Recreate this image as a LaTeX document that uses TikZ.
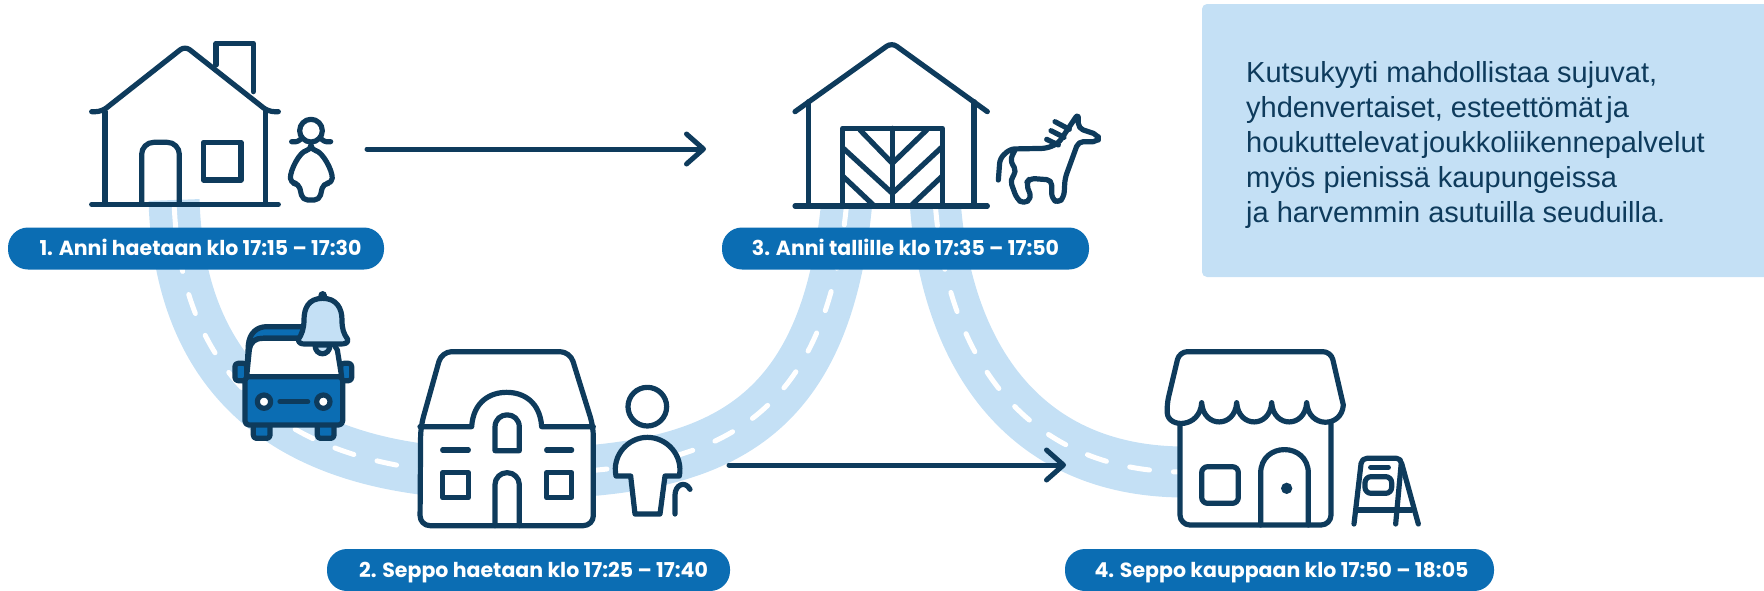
\documentclass[tikz,border=0pt]{standalone}
\usepackage{fontspec}
\usetikzlibrary{arrows.meta}
\setmainfont{Liberation Sans}
\newfontfamily\pillfont{Poppins}
\definecolor{mynavy}{HTML}{0E3B5C}
\definecolor{myblue}{HTML}{0B6DB3}
\definecolor{mylight}{HTML}{C4E0F5}
\tikzset{
  icon/.style={draw=mynavy,line width=5.2pt,line join=round,line cap=round},
  iconw/.style={icon,fill=white},
  iconb/.style={icon,fill=myblue},
  road/.style={draw=mylight,line width=51pt},
  lane/.style={draw=white,line width=5pt,line cap=round,dash pattern=on 20pt off 24pt},
  pill/.style={fill=myblue,rounded corners=20pt,text=white,font=\pillfont\bfseries\fontsize{20.5}{24}\selectfont,inner sep=0pt,minimum height=42pt,text height=14pt,text depth=0pt},
  flow/.style={draw=mynavy,line width=5pt,line cap=round,-{Straight Barb[length=17pt,width=30pt,line width=5pt,round]}},
  zoomed/.style={scale=0.33333}
}
\begin{document}
\begin{tikzpicture}[x=1pt,y=-1pt]
\useasboundingbox (0,0) rectangle (1764,590);
% roads
\path[road] (174,200) .. controls (180,390) and (300,474) .. (500,474) .. controls (700,474) and (825,440) .. (847,200);
\path[road] (935,200) .. controls (945,350) and (1020,472) .. (1185,472);
\path[lane,dash phase=36pt] (174,200) .. controls (180,390) and (300,474) .. (500,474);
\path[lane,dash phase=39pt] (847,200) .. controls (825,440) and (700,474) .. (500,474);
\path[lane,dash phase=38pt] (935,200) .. controls (945,350) and (1020,472) .. (1185,472);
% info box
\fill[mylight,rounded corners=5pt] (1202,4) rectangle (1770,277);
\node[anchor=base west,inner sep=0pt,align=left,text=mynavy,font=\fontsize{29}{35}\selectfont] (info) at (1246,222) {Kutsukyyti mahdollistaa sujuvat,\\yhdenvertaiset, esteettömät\hspace{4pt}ja\\houkuttelevat\hspace{4pt}joukkoliikennepalvelut\\myös pienissä kaupungeissa\\ja harvemmin asutuilla seuduilla.};
% arrows
\coordinate (a1s) at (367,149);
\coordinate (a1e) at (706,149);
\coordinate (a2s) at (729,465);
\coordinate (a2e) at (1066,465);
\draw[flow] (a1s) -- (a1e);
\draw[flow] (a2s) -- (a2e);
% house 1 + girl
\begin{scope}[shift={(0,20)},zoomed]
\path[icon] (648,135) -- (648,70) -- (760,70) -- (760,215);
\path[icon] (315,275) -- (315,553);
\path[icon] (797,275) -- (797,553);
\path[icon,rounded corners=6pt] (275,275) -- (305,275) -- (555,78) -- (805,275) -- (835,275);
\path[icon] (275,553) -- (835,553);
\path[icon,rounded corners=12pt] (425,553) -- (425,367) -- (538,367) -- (538,553);
\path[icon] (610,367) rectangle (723,480);
\path[icon] (933,332) circle[radius=34];
\path[icon] (875,365) .. controls (890,368) and (900,362) .. (906,352);
\path[icon] (992,365) .. controls (977,368) and (967,362) .. (960,352);
\path[iconw,rounded corners=5pt] (933,390) .. controls (900,395) and (870,450) .. (872,490) -- (896,490) -- (908,540) -- (958,540) -- (970,490) -- (996,490) .. controls (998,450) and (966,395) .. (933,390) -- cycle;
\end{scope}
% bus
\begin{scope}[shift={(130,270)},zoomed]
\path[iconb,rounded corners=3pt] (315,280) rectangle (350,332);
\path[iconb,rounded corners=3pt] (632,280) rectangle (665,332);
\path[iconb,rounded corners=3pt] (370,460) rectangle (420,505);
\path[iconb,rounded corners=3pt] (562,460) rectangle (612,505);
\path[iconb] (350,320) -- (355,225) .. controls (358,190) and (380,170) .. (410,170) -- (570,170) -- (570,205) -- (400,205) .. controls (375,205) and (362,215) .. (358,240) -- cycle;
\path[icon,fill=white] (350,320) -- (358,240) .. controls (362,215) and (375,205) .. (400,205) -- (600,205) -- (622,240) -- (635,320) -- cycle;
\path[iconb,rounded corners=4pt] (345,320) rectangle (638,465);
\path[icon,fill=white] (402,395) circle[radius=20];
\path[icon,fill=white] (580,395) circle[radius=20];
\path[icon] (450,395) -- (533,395);
\path[icon,fill=mylight] (555,225) .. controls (555,260) and (600,260) .. (600,225) -- cycle;
\path[icon,fill=mylight] (578,85) .. controls (535,85) and (522,115) .. (522,150) .. controls (522,175) and (515,195) .. (505,208) .. controls (505,220) and (515,222) .. (525,222) -- (630,222) .. controls (645,222) and (655,220) .. (653,208) .. controls (640,190) and (636,175) .. (636,150) .. controls (636,115) and (620,85) .. (578,85) -- cycle;
\fill[mynavy] (578,76) circle[radius=13];
\end{scope}
% house 2 + man
\begin{scope}[shift={(390,330)},zoomed]
\path[iconw,rounded corners=10pt] (92,290) -- (155,65) -- (540,65) -- (610,290) -- (610,587) -- (90,587) -- cycle;
\path[icon] (90,290) -- (245,290) .. controls (250,215) and (300,187) .. (350,187) .. controls (400,187) and (450,215) .. (455,290) -- (610,290);
\path[icon] (315,362) -- (315,292) .. controls (315,242) and (388,242) .. (388,292) -- (388,362) -- cycle;
\path[icon] (158,360) -- (235,360);
\path[icon] (470,360) -- (545,360);
\path[icon] (158,428) rectangle (235,503);
\path[icon] (470,428) rectangle (545,503);
\path[icon,rounded corners=12pt] (315,587) -- (315,428) -- (388,428) -- (388,587);
\path[iconw] (772,230) circle[radius=58];
\path[iconw] (678,438) .. controls (665,375) and (715,322) .. (772,322) .. controls (830,322) and (880,375) .. (868,438) -- (825,438) -- (810,552) -- (735,552) -- (722,438) -- cycle;
\path[icon] (855,552) -- (855,495) .. controls (855,465) and (885,450) .. (900,478);
\end{scope}
% barn
\begin{scope}[shift={(770,20)},zoomed]
\fill[white] (115,245) -- (115,558) -- (612,558) -- (612,245) -- (365,75) -- cycle;
\path[icon] (115,245) -- (115,558);
\path[icon] (612,245) -- (612,558);
\path[icon,rounded corners=6pt] (75,275) -- (365,68) -- (652,275);
\path[icon] (75,558) -- (652,558);
\path[icon] (218,558) -- (218,325) -- (517,325) -- (517,558);
\path[icon] (367,325) -- (367,558);
\path[icon] (270,330) -- (367,430) -- (470,330);
\path[icon] (220,385) -- (367,520) -- (517,380);
\path[icon] (220,470) -- (310,555);
\path[icon] (515,470) -- (425,555);
\end{scope}
% horse
\begin{scope}[shift={(990,100)},zoomed]
\path[icon,rounded corners=5pt] (25,240) -- (30,175) -- (60,147) -- (170,145) -- (205,130) -- (265,40) -- (265,85) -- (325,105) -- (325,125) -- (265,125) -- (225,235) -- (222,290) -- (205,310) -- (185,295) -- (185,240) -- (120,235) -- (108,250) -- (125,295) -- (100,312) -- (80,295) -- (60,240) -- (80,215) -- (60,180) -- (75,150);
\path[icon] (170,118) -- (205,135);
\path[icon] (183,92) -- (222,112);
\path[icon] (195,65) -- (238,88);
\end{scope}
% shop + sign
\begin{scope}[shift={(1130,330)},zoomed]
\fill[white] (150,250) rectangle (603,585);
\path[icon,rounded corners=10pt] (150,270) -- (150,585) -- (603,585) -- (603,270);
\path[iconw,rounded corners=8pt] (640,225) -- (603,65) -- (148,65) -- (110,225) [sharp corners] .. controls (115,295) and (210,295) .. (215,218) .. controls (220,295) and (315,295) .. (320,218) .. controls (325,295) and (420,295) .. (425,218) .. controls (430,295) and (525,295) .. (530,218) .. controls (535,295) and (635,295) .. (640,225) -- cycle;
\path[icon,rounded corners=6pt] (215,410) rectangle (325,520);
\path[icon] (392,585) -- (392,430) .. controls (392,335) and (535,335) .. (535,430) -- (535,585);
\fill[mynavy] (470,475) circle[radius=17];
\path[icon,rounded corners=5pt] (672,582) -- (695,385) -- (815,385) -- (797,582);
\path[icon] (815,400) -- (865,582);
\path[icon] (680,540) -- (845,540);
\path[icon] (722,412) -- (775,412);
\path[icon,rounded corners=6pt] (705,440) rectangle (785,490);
\end{scope}
% labels
\node[pill,minimum width=376pt] (l1) at (196,248.5) {\hspace*{9pt}1. Anni haetaan klo 17:15 – 17:30};
\node[pill,minimum width=367pt] (l3) at (905.5,248.5) {3. Anni tallille klo 17:35 – 17:50};
\node[pill,minimum width=403pt] (l2) at (528.5,570) {\hspace*{10pt}2. Seppo haetaan klo 17:25 – 17:40};
\node[pill,minimum width=429pt] (l4) at (1279.5,570) {\hspace*{4pt}4. Seppo kauppaan klo 17:50 – 18:05};
\end{tikzpicture}
\end{document}
